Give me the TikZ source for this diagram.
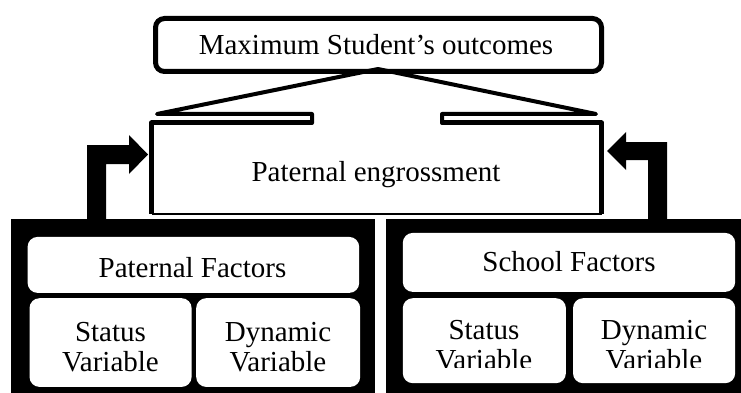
\documentclass[tikz,border=0pt]{standalone}
\usepackage{fontspec}
\setmainfont{Liberation Serif}
\begin{document}
\begin{tikzpicture}[x=1pt,y=-1pt,
  txt/.style={font=\fontsize{29}{30}\selectfont, inner sep=0pt, align=center},
  wbox/.style={fill=white, draw=none, rounded corners=10pt, inner sep=0pt, anchor=north west},
  frame/.style={fill=black, draw=none, inner sep=0pt, anchor=north west},
  outl/.style={line width=5pt, line join=round},
  arrowshape/.style={fill=black, draw=none},
]
\useasboundingbox (0,0) rectangle (741,393);

% top box
\node[draw, line width=5pt, rounded corners=9pt, fill=white, inner sep=0pt,
      minimum width=446pt, minimum height=53pt, anchor=north west] (topbox) at (153,16) {};
\node[txt, anchor=base] (toptxt) at (376,55) {Maximum Student’s outcomes};

% callout-shaped box "Paternal engrossment"
\coordinate (pl) at (312,123);
\coordinate (pr) at (442,123);
\coordinate (apex) at (378,69);
\draw[outl] (pl) -- (151.5,123) -- (151.5,214);
\draw[line width=1.5pt] (151.5,214) -- (601.5,214);
\draw[outl] (601.5,214) -- (601.5,123) -- (pr);
\draw[line width=4pt, line join=round, line cap=round]
  (pl) -- (312,114) -- (157,114) -- (apex) -- (596,114) -- (442,114) -- (pr);
\node[txt, anchor=base] (eng) at (376,181.7) {Paternal engrossment};

% black frames
\node[frame, minimum width=364pt, minimum height=190pt] (lframe) at (11,219) {};
\node[frame, minimum width=370pt, minimum height=190pt] (rframe) at (386,219) {};

% arrows
\fill[arrowshape] (87,219) -- (87,145) -- (129,145) -- (129,135) -- (148,154.5)
  -- (129,174) -- (129,164) -- (106,164) -- (106,219) -- cycle;
\fill[arrowshape] (667,219) -- (667,142) -- (626,142) -- (626,132) -- (607,151)
  -- (626,170) -- (626,160) -- (648,160) -- (648,219) -- cycle;

% left inner boxes
\node[wbox, minimum width=331.6pt, minimum height=56pt] (pfbox) at (27.4,236.7) {};
\node[wbox, minimum width=162.1pt, minimum height=88.7pt] (lsbox) at (29.3,298) {};
\node[wbox, minimum width=164pt, minimum height=88.7pt] (ldbox) at (196,298) {};
\node[txt, anchor=base] (pftxt) at (192.5,277.3) {Paternal Factors};
\node[txt] (lstxt) at (110.5,347.2) {Status\\Variable};
\node[txt] (ldtxt) at (278,347.2) {Dynamic\\Variable};

% right inner boxes
\node[wbox, minimum width=332.4pt, minimum height=59pt] (sfbox) at (402.6,232.7) {};
\node[wbox, minimum width=163.1pt, minimum height=85pt] (rsbox) at (402.6,298) {};
\node[wbox, minimum width=162.2pt, minimum height=85pt] (rdbox) at (572.8,298) {};
\node[txt, anchor=base] (sftxt) at (569,271.7) {School Factors};
\begin{scope}
  \clip (400,295) rectangle (741,367.5);
  \node[txt] (rstxt) at (484,345.5) {Status\\Variable};
  \node[txt] (rdtxt) at (654,345.5) {Dynamic\\Variable};
\end{scope}
\end{tikzpicture}
\end{document}
